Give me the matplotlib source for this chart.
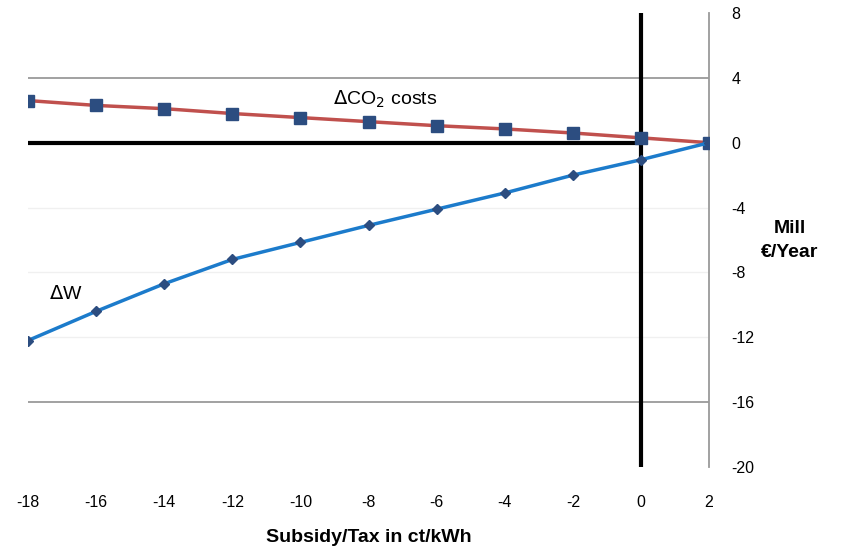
import matplotlib
matplotlib.use("Agg")
from matplotlib import pyplot as plt

# subsidy (negative) / tax (positive) in ct/kWh
x = [-18, -16, -14, -12, -10, -8, -6, -4, -2, 0, 2]

# Mill EUR / year
co2_costs = [2.6, 2.3, 2.1, 1.8, 1.55, 1.3, 1.05, 0.85, 0.6, 0.3, 0.0]
welfare = [-12.2, -10.4, -8.7, -7.2, -6.15, -5.1, -4.1, -3.1, -2.0, -1.05, 0.0]

yticks = [8, 4, 0, -4, -8, -12, -16, -20]
grid_strong = [4, -16]
grid_faint = [-4, -8, -12]

plt.rcParams['font.family'] = ['Liberation Sans', 'DejaVu Sans']

fig = plt.figure(figsize=(8.45, 5.53), dpi=100)
ax = fig.add_axes([0.0331, 0.1555, 0.806, 0.821])

for g in grid_faint:
    ax.axhline(g, color='#F0F0F0', lw=1.0, zorder=0)
for g in grid_strong:
    ax.axhline(g, color='#9A9A9A', lw=1.3, zorder=0)

# heavy zero lines
ax.plot([-18, 0], [0, 0], color='black', lw=3, zorder=1, solid_capstyle='butt')
ax.axvline(0, color='black', lw=3, zorder=1)

ax.plot(x, co2_costs, color='#C0504D', lw=2.5, marker='s', markersize=8,
        markerfacecolor='#2C4D80', markeredgecolor='#2C4D80', zorder=3)
ax.plot(x, welfare, color='#1C7BCB', lw=2.5, marker='D', markersize=5,
        markerfacecolor='#2C4D80', markeredgecolor='#2C4D80', zorder=3)

ax.text(-7.5, 2.65, '$\\Delta$CO$_2$ costs', fontsize=14, ha='center', va='center')
ax.text(-16.9, -9.3, '$\\Delta$W', fontsize=14, ha='center', va='center')

ax.set_xlim(-18, 2)
ax.set_ylim(-20, 8)
ax.set_xticks(x)
ax.set_xticklabels([str(v) for v in x], fontsize=11.5)
ax.set_yticks(yticks)
ax.set_yticklabels([str(v) for v in yticks], fontsize=11.5)
ax.yaxis.tick_right()
ax.tick_params(length=0, pad=16)
ax.tick_params(axis='x', pad=20)

for s in ['left', 'top', 'bottom']:
    ax.spines[s].set_visible(False)
ax.spines['right'].set_color('#9A9A9A')
ax.spines['right'].set_linewidth(1.3)

ax.set_xlabel('Subsidy/Tax in ct/kWh', fontsize=14, fontweight='bold', labelpad=14)
fig.text(0.935, 0.565, 'Mill\n€/Year', fontsize=14, fontweight='bold',
         ha='center', va='center', linespacing=1.6)

fig.savefig('out.png', dpi=100)
